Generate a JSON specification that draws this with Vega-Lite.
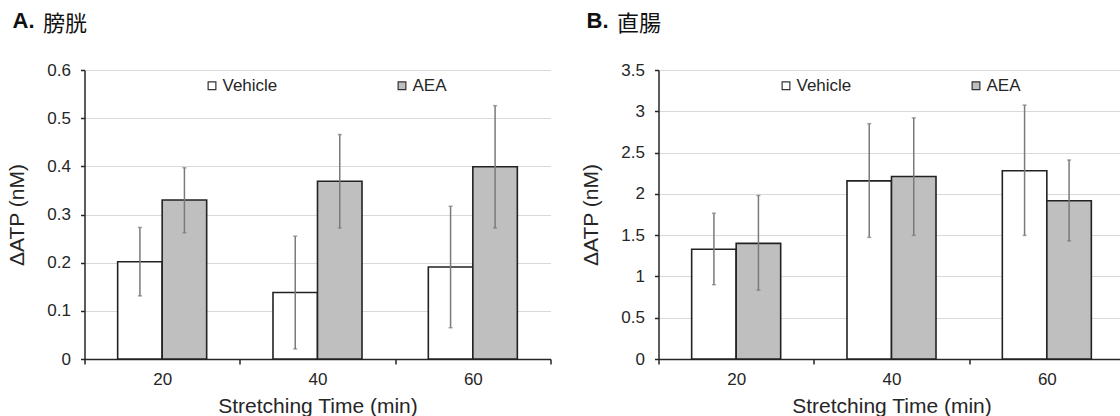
{
  "$schema": "https://vega.github.io/schema/vega-lite/v6.json",
  "background": "white",
  "padding": {"left": 6.5, "top": 10, "right": 0, "bottom": 0},
  "datasets": {
    "atp": [
      {"panel": "A", "time": 20, "group": "Vehicle", "mean": 0.202, "lo": 0.131, "hi": 0.273},
      {"panel": "A", "time": 20, "group": "AEA", "mean": 0.33, "lo": 0.262, "hi": 0.397},
      {"panel": "A", "time": 40, "group": "Vehicle", "mean": 0.138, "lo": 0.021, "hi": 0.255},
      {"panel": "A", "time": 40, "group": "AEA", "mean": 0.369, "lo": 0.272, "hi": 0.466},
      {"panel": "A", "time": 60, "group": "Vehicle", "mean": 0.191, "lo": 0.065, "hi": 0.317},
      {"panel": "A", "time": 60, "group": "AEA", "mean": 0.399, "lo": 0.272, "hi": 0.526},
      {"panel": "B", "time": 20, "group": "Vehicle", "mean": 1.33, "lo": 0.9, "hi": 1.765},
      {"panel": "B", "time": 20, "group": "AEA", "mean": 1.4, "lo": 0.834, "hi": 1.98},
      {"panel": "B", "time": 40, "group": "Vehicle", "mean": 2.157, "lo": 1.473, "hi": 2.85},
      {"panel": "B", "time": 40, "group": "AEA", "mean": 2.21, "lo": 1.497, "hi": 2.92},
      {"panel": "B", "time": 60, "group": "Vehicle", "mean": 2.28, "lo": 1.497, "hi": 3.075},
      {"panel": "B", "time": 60, "group": "AEA", "mean": 1.917, "lo": 1.43, "hi": 2.41}
    ]
  },
  "config": {
    "font": "Liberation Sans, Noto Sans CJK JP, sans-serif",
    "view": {"stroke": null},
    "axis": {
      "labelFont": "Liberation Sans",
      "titleFont": "Liberation Sans",
      "labelColor": "#262626",
      "titleColor": "#262626",
      "domainColor": "#262626",
      "tickColor": "#262626",
      "domainWidth": 1.5,
      "tickWidth": 1.5,
      "labelFontSize": 17,
      "titleFontSize": 21,
      "titleFontWeight": "normal",
      "gridColor": "#d9d9d9",
      "gridWidth": 1
    },
    "legend": {
      "orient": "none",
      "legendX": 119,
      "legendY": 7,
      "direction": "horizontal",
      "symbolType": "square",
      "symbolSize": 60,
      "symbolStrokeColor": "#333333",
      "symbolStrokeWidth": 1.2,
      "labelFont": "Liberation Sans",
      "labelFontSize": 17,
      "labelColor": "#262626",
      "labelOffset": 2,
      "columnPadding": 116,
      "padding": 0
    },
    "title": {
      "anchor": "start",
      "frame": "group",
      "font": "Liberation Sans",
      "fontSize": 22,
      "fontWeight": "bold",
      "color": "#111111",
      "dx": -72,
      "offset": -21
    }
  },
  "bounds": "flush",
  "spacing": 108,
  "resolve": {"scale": {"y": "independent", "color": "independent"}, "legend": {"color": "independent"}},
  "hconcat": [
    {
      "width": 466,
      "height": 289,
      "title": "A.",
      "data": {"name": "atp"},
      "transform": [{"filter": "datum.panel === 'A'"}],
      "resolve": {"axis": {"x": "independent"}},
      "layer": [
        {
          "mark": {"type": "bar", "stroke": "#222222", "strokeWidth": 1.6},
          "encoding": {
            "x": {"field": "time", "type": "ordinal", "scale": {"paddingInner": 0, "paddingOuter": 0},
                  "axis": {"title": "Stretching Time (min)", "labelAngle": 0, "tickBand": "extent", "tickSize": 5, "labelPadding": 7, "titlePadding": 8, "grid": false}},
            "xOffset": {"field": "group", "sort": ["Vehicle", "AEA"], "scale": {"paddingInner": 0, "paddingOuter": 0.745}},
            "y": {"field": "mean", "type": "quantitative", "title": "ΔATP (nM)", "scale": {"domain": [0, 0.6]},
                  "axis": {"title": "ΔATP (nM)", "values": [0, 0.1, 0.2, 0.3, 0.4, 0.5, 0.6], "format": "~g", "tickSize": 4, "labelPadding": 10, "titlePadding": 19, "grid": true}},
            "color": {"field": "group", "type": "nominal", "sort": ["Vehicle", "AEA"],
                      "scale": {"domain": ["Vehicle", "AEA"], "range": ["#ffffff", "#bfbfbf"]},
                      "legend": {"title": null}}
          }
        },
        {
          "mark": {"type": "errorbar", "color": "#7a7a7a", "thickness": 1.5, "ticks": {"size": 4}},
          "encoding": {
            "x": {"field": "time", "type": "ordinal",
                  "axis": {"orient": "top", "title": "膀胱", "titleFont": "Noto Sans CJK JP", "titleFontSize": 22, "titleColor": "#111111",
                           "titleX": -42, "titleY": -40, "titleAnchor": "start", "titleAlign": "left", "titleBaseline": "alphabetic", "titleAngle": 0,
                           "labels": false, "ticks": false, "domain": false, "grid": false}},
            "xOffset": {"field": "group", "sort": ["Vehicle", "AEA"]},
            "y": {"field": "lo", "type": "quantitative", "title": "ΔATP (nM)"},
            "y2": {"field": "hi"}
          }
        }
      ]
    },
    {
      "width": 466,
      "height": 289,
      "title": "B.",
      "data": {"name": "atp"},
      "transform": [{"filter": "datum.panel === 'B'"}],
      "resolve": {"axis": {"x": "independent"}},
      "layer": [
        {
          "mark": {"type": "bar", "stroke": "#222222", "strokeWidth": 1.6},
          "encoding": {
            "x": {"field": "time", "type": "ordinal", "scale": {"paddingInner": 0, "paddingOuter": 0},
                  "axis": {"title": "Stretching Time (min)", "labelAngle": 0, "tickBand": "extent", "tickSize": 5, "labelPadding": 7, "titlePadding": 8, "grid": false}},
            "xOffset": {"field": "group", "sort": ["Vehicle", "AEA"], "scale": {"paddingInner": 0, "paddingOuter": 0.745}},
            "y": {"field": "mean", "type": "quantitative", "title": "ΔATP (nM)", "scale": {"domain": [0, 3.5]},
                  "axis": {"title": "ΔATP (nM)", "values": [0, 0.5, 1, 1.5, 2, 2.5, 3, 3.5], "format": "~g", "tickSize": 4, "labelPadding": 10, "titlePadding": 19, "grid": true}},
            "color": {"field": "group", "type": "nominal", "sort": ["Vehicle", "AEA"],
                      "scale": {"domain": ["Vehicle", "AEA"], "range": ["#ffffff", "#bfbfbf"]},
                      "legend": {"title": null}}
          }
        },
        {
          "mark": {"type": "errorbar", "color": "#7a7a7a", "thickness": 1.5, "ticks": {"size": 4}},
          "encoding": {
            "x": {"field": "time", "type": "ordinal",
                  "axis": {"orient": "top", "title": "直腸", "titleFont": "Noto Sans CJK JP", "titleFontSize": 22, "titleColor": "#111111",
                           "titleX": -42, "titleY": -40, "titleAnchor": "start", "titleAlign": "left", "titleBaseline": "alphabetic", "titleAngle": 0,
                           "labels": false, "ticks": false, "domain": false, "grid": false}},
            "xOffset": {"field": "group", "sort": ["Vehicle", "AEA"]},
            "y": {"field": "lo", "type": "quantitative", "title": "ΔATP (nM)"},
            "y2": {"field": "hi"}
          }
        }
      ]
    }
  ]
}
